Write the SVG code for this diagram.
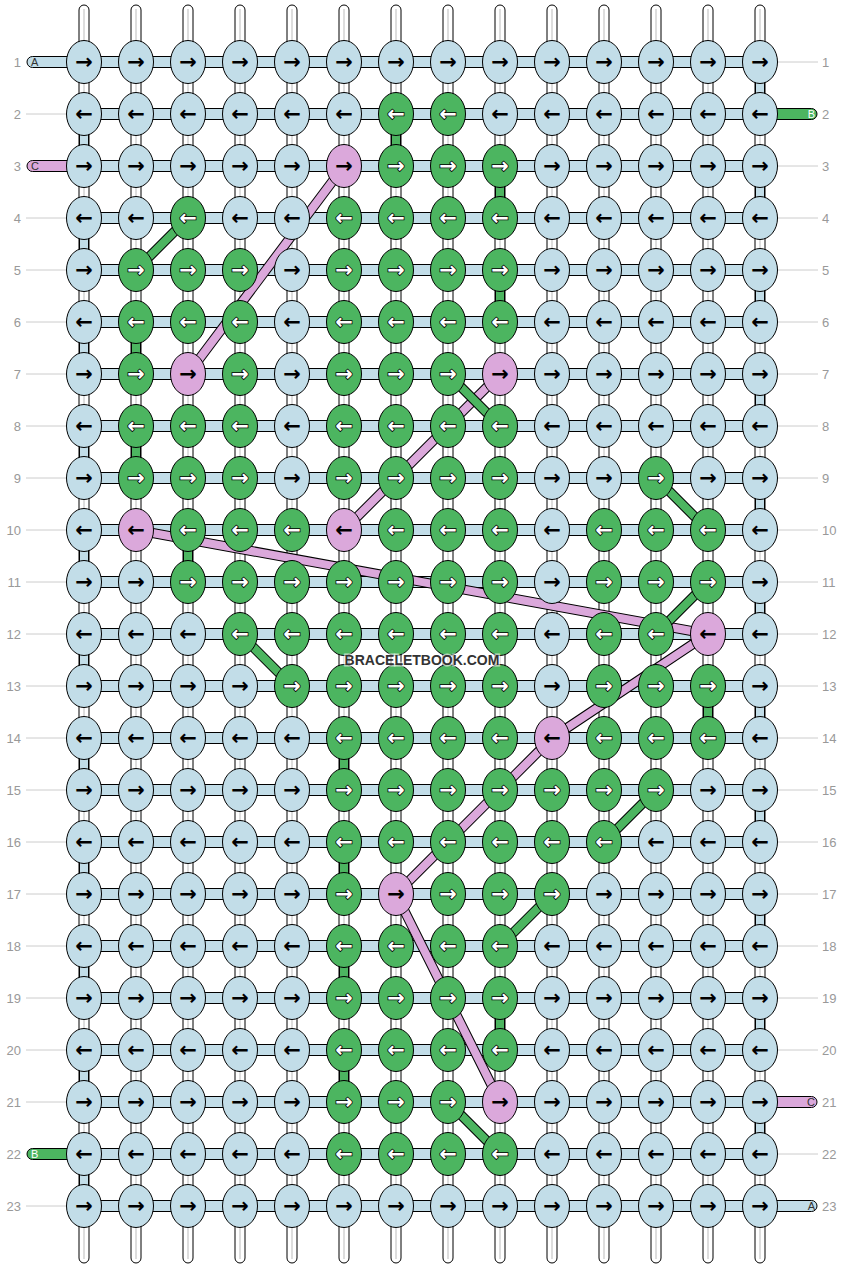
<svg xmlns="http://www.w3.org/2000/svg" width="844" height="1268" viewBox="0 0 844 1268">
<style>
.warp{fill:#fff;stroke:#000;stroke-width:1}
.wl{stroke:#bbb;stroke-width:1}
.band{fill:#c2dde8;stroke:#000;stroke-width:1}
.vb{fill:#c2dde8;stroke:#000;stroke-width:1}
.vg{fill:#4cb560;stroke:#000;stroke-width:1}
.tb{fill:#c2dde8;stroke:#000;stroke-width:1}
.tg{fill:#4cb560;stroke:#000;stroke-width:1}
.tp{fill:#dba8db;stroke:#000;stroke-width:1}
.gl{stroke:#ccc;stroke-width:1}
.num{font:13px "Liberation Sans",Arial,sans-serif;fill:#999}
.tl{font:11px "Liberation Sans",Arial,sans-serif;fill:#333}
.tlw{font:11px "Liberation Sans",Arial,sans-serif;fill:#fff}
.do{fill:none;stroke:#000;stroke-width:10}
.dp{fill:none;stroke:#dba8db;stroke-width:8}
.dg{fill:none;stroke:#4cb560;stroke-width:8}
ellipse{stroke:#000;stroke-width:1}
.b ellipse{fill:#c2dde8}
.g ellipse{fill:#4cb560}
.p ellipse{fill:#dba8db}
#knots text{font:bold 21px "DejaVu Sans",sans-serif;text-anchor:middle;fill:#000}
#knots .g text{fill:#fff;stroke:#000;stroke-width:1.6;paint-order:stroke}
.wm{font:bold 14px "Liberation Sans",Arial,sans-serif;fill:#333;stroke:rgba(255,255,255,0.6);stroke-width:3;paint-order:stroke;text-anchor:middle}
</style>
<g id="warps">
<rect class="warp" x="79" y="5" width="10" height="1258" rx="5"/><line class="wl" x1="84" y1="9" x2="84" y2="1259"/>
<rect class="warp" x="131" y="5" width="10" height="1258" rx="5"/><line class="wl" x1="136" y1="9" x2="136" y2="1259"/>
<rect class="warp" x="183" y="5" width="10" height="1258" rx="5"/><line class="wl" x1="188" y1="9" x2="188" y2="1259"/>
<rect class="warp" x="235" y="5" width="10" height="1258" rx="5"/><line class="wl" x1="240" y1="9" x2="240" y2="1259"/>
<rect class="warp" x="287" y="5" width="10" height="1258" rx="5"/><line class="wl" x1="292" y1="9" x2="292" y2="1259"/>
<rect class="warp" x="339" y="5" width="10" height="1258" rx="5"/><line class="wl" x1="344" y1="9" x2="344" y2="1259"/>
<rect class="warp" x="391" y="5" width="10" height="1258" rx="5"/><line class="wl" x1="396" y1="9" x2="396" y2="1259"/>
<rect class="warp" x="443" y="5" width="10" height="1258" rx="5"/><line class="wl" x1="448" y1="9" x2="448" y2="1259"/>
<rect class="warp" x="495" y="5" width="10" height="1258" rx="5"/><line class="wl" x1="500" y1="9" x2="500" y2="1259"/>
<rect class="warp" x="547" y="5" width="10" height="1258" rx="5"/><line class="wl" x1="552" y1="9" x2="552" y2="1259"/>
<rect class="warp" x="599" y="5" width="10" height="1258" rx="5"/><line class="wl" x1="604" y1="9" x2="604" y2="1259"/>
<rect class="warp" x="651" y="5" width="10" height="1258" rx="5"/><line class="wl" x1="656" y1="9" x2="656" y2="1259"/>
<rect class="warp" x="703" y="5" width="10" height="1258" rx="5"/><line class="wl" x1="708" y1="9" x2="708" y2="1259"/>
<rect class="warp" x="755" y="5" width="10" height="1258" rx="5"/><line class="wl" x1="760" y1="9" x2="760" y2="1259"/>
</g>
<g id="connectors">
<g id="vertical-segments">
<rect class="vb" x="755.5" y="62" width="9" height="52"/>
<rect class="vb" x="755.5" y="166" width="9" height="52"/>
<rect class="vb" x="755.5" y="270" width="9" height="52"/>
<rect class="vb" x="755.5" y="374" width="9" height="52"/>
<rect class="vb" x="755.5" y="478" width="9" height="52"/>
<rect class="vb" x="755.5" y="582" width="9" height="52"/>
<rect class="vb" x="755.5" y="686" width="9" height="52"/>
<rect class="vb" x="755.5" y="790" width="9" height="52"/>
<rect class="vb" x="755.5" y="894" width="9" height="52"/>
<rect class="vb" x="755.5" y="998" width="9" height="52"/>
<rect class="vb" x="755.5" y="1102" width="9" height="52"/>
<rect class="vb" x="79.5" y="114" width="9" height="52"/>
<rect class="vb" x="79.5" y="218" width="9" height="52"/>
<rect class="vb" x="79.5" y="322" width="9" height="52"/>
<rect class="vb" x="79.5" y="426" width="9" height="52"/>
<rect class="vb" x="79.5" y="530" width="9" height="52"/>
<rect class="vb" x="79.5" y="634" width="9" height="52"/>
<rect class="vb" x="79.5" y="738" width="9" height="52"/>
<rect class="vb" x="79.5" y="842" width="9" height="52"/>
<rect class="vb" x="79.5" y="946" width="9" height="52"/>
<rect class="vb" x="79.5" y="1050" width="9" height="52"/>
<rect class="vb" x="79.5" y="1154" width="9" height="52"/>
<rect class="vg" x="391.5" y="114" width="9" height="52"/>
<rect class="vg" x="495.5" y="166" width="9" height="52"/>
<rect class="vg" x="495.5" y="270" width="9" height="52"/>
<rect class="vg" x="131.5" y="322" width="9" height="52"/>
<rect class="vg" x="131.5" y="426" width="9" height="52"/>
<rect class="vg" x="183.5" y="530" width="9" height="52"/>
<rect class="vg" x="703.5" y="686" width="9" height="52"/>
<rect class="vg" x="339.5" y="738" width="9" height="52"/>
<rect class="vg" x="339.5" y="842" width="9" height="52"/>
<rect class="vg" x="339.5" y="946" width="9" height="52"/>
<rect class="vg" x="495.5" y="998" width="9" height="52"/>
<rect class="vg" x="339.5" y="1050" width="9" height="52"/>
</g>
<g id="rows">
<rect class="band" x="84" y="56.5" width="676" height="11"/>
<rect class="band" x="84" y="108.5" width="676" height="11"/>
<rect class="band" x="84" y="160.5" width="676" height="11"/>
<rect class="band" x="84" y="212.5" width="676" height="11"/>
<rect class="band" x="84" y="264.5" width="676" height="11"/>
<rect class="band" x="84" y="316.5" width="676" height="11"/>
<rect class="band" x="84" y="368.5" width="676" height="11"/>
<rect class="band" x="84" y="420.5" width="676" height="11"/>
<rect class="band" x="84" y="472.5" width="676" height="11"/>
<rect class="band" x="84" y="524.5" width="676" height="11"/>
<rect class="band" x="84" y="576.5" width="676" height="11"/>
<rect class="band" x="84" y="628.5" width="676" height="11"/>
<rect class="band" x="84" y="680.5" width="676" height="11"/>
<rect class="band" x="84" y="732.5" width="676" height="11"/>
<rect class="band" x="84" y="784.5" width="676" height="11"/>
<rect class="band" x="84" y="836.5" width="676" height="11"/>
<rect class="band" x="84" y="888.5" width="676" height="11"/>
<rect class="band" x="84" y="940.5" width="676" height="11"/>
<rect class="band" x="84" y="992.5" width="676" height="11"/>
<rect class="band" x="84" y="1044.5" width="676" height="11"/>
<rect class="band" x="84" y="1096.5" width="676" height="11"/>
<rect class="band" x="84" y="1148.5" width="676" height="11"/>
<rect class="band" x="84" y="1200.5" width="676" height="11"/>
</g>
<g id="tails">
<path class="tb" d="M72 56.5H32.5A5.5 5.5 0 0 0 32.5 67.5H72Z"/>
<path class="tp" d="M72 160.5H32.5A5.5 5.5 0 0 0 32.5 171.5H72Z"/>
<path class="tg" d="M72 1148.5H32.5A5.5 5.5 0 0 0 32.5 1159.5H72Z"/>
<path class="tg" d="M772 108.5H811.5A5.5 5.5 0 0 1 811.5 119.5H772Z"/>
<path class="tp" d="M772 1096.5H811.5A5.5 5.5 0 0 1 811.5 1107.5H772Z"/>
<path class="tb" d="M772 1200.5H811.5A5.5 5.5 0 0 1 811.5 1211.5H772Z"/>
<line class="gl" x1="26" y1="114" x2="66" y2="114"/>
<line class="gl" x1="26" y1="218" x2="66" y2="218"/>
<line class="gl" x1="26" y1="270" x2="66" y2="270"/>
<line class="gl" x1="26" y1="322" x2="66" y2="322"/>
<line class="gl" x1="26" y1="374" x2="66" y2="374"/>
<line class="gl" x1="26" y1="426" x2="66" y2="426"/>
<line class="gl" x1="26" y1="478" x2="66" y2="478"/>
<line class="gl" x1="26" y1="530" x2="66" y2="530"/>
<line class="gl" x1="26" y1="582" x2="66" y2="582"/>
<line class="gl" x1="26" y1="634" x2="66" y2="634"/>
<line class="gl" x1="26" y1="686" x2="66" y2="686"/>
<line class="gl" x1="26" y1="738" x2="66" y2="738"/>
<line class="gl" x1="26" y1="790" x2="66" y2="790"/>
<line class="gl" x1="26" y1="842" x2="66" y2="842"/>
<line class="gl" x1="26" y1="894" x2="66" y2="894"/>
<line class="gl" x1="26" y1="946" x2="66" y2="946"/>
<line class="gl" x1="26" y1="998" x2="66" y2="998"/>
<line class="gl" x1="26" y1="1050" x2="66" y2="1050"/>
<line class="gl" x1="26" y1="1102" x2="66" y2="1102"/>
<line class="gl" x1="26" y1="1206" x2="66" y2="1206"/>
<line class="gl" x1="778" y1="62" x2="818" y2="62"/>
<line class="gl" x1="778" y1="166" x2="818" y2="166"/>
<line class="gl" x1="778" y1="218" x2="818" y2="218"/>
<line class="gl" x1="778" y1="270" x2="818" y2="270"/>
<line class="gl" x1="778" y1="322" x2="818" y2="322"/>
<line class="gl" x1="778" y1="374" x2="818" y2="374"/>
<line class="gl" x1="778" y1="426" x2="818" y2="426"/>
<line class="gl" x1="778" y1="478" x2="818" y2="478"/>
<line class="gl" x1="778" y1="530" x2="818" y2="530"/>
<line class="gl" x1="778" y1="582" x2="818" y2="582"/>
<line class="gl" x1="778" y1="634" x2="818" y2="634"/>
<line class="gl" x1="778" y1="686" x2="818" y2="686"/>
<line class="gl" x1="778" y1="738" x2="818" y2="738"/>
<line class="gl" x1="778" y1="790" x2="818" y2="790"/>
<line class="gl" x1="778" y1="842" x2="818" y2="842"/>
<line class="gl" x1="778" y1="894" x2="818" y2="894"/>
<line class="gl" x1="778" y1="946" x2="818" y2="946"/>
<line class="gl" x1="778" y1="998" x2="818" y2="998"/>
<line class="gl" x1="778" y1="1050" x2="818" y2="1050"/>
<line class="gl" x1="778" y1="1154" x2="818" y2="1154"/>
<text class="tl" x="31" y="66">A</text>
<text class="tl" x="31" y="170">C</text>
<text class="tlw" x="31" y="1158">B</text>
<text class="tlw" x="815" y="118" text-anchor="end">B</text>
<text class="tl" x="815" y="1106" text-anchor="end">C</text>
<text class="tl" x="815" y="1210" text-anchor="end">A</text>
</g>
<g id="diagonals">
<path class="do" d="M344 166L188 374"/><path class="dp" d="M344 166L188 374"/>
<path class="do" d="M500 374L344 530"/><path class="dp" d="M500 374L344 530"/>
<path class="do" d="M136 530L708 634L552 738L396 894L500 1102"/><path class="dp" d="M136 530L708 634L552 738L396 894L500 1102"/>
<path class="do" d="M188 218L136 270"/><path class="dg" d="M188 218L136 270"/>
<path class="do" d="M448 374L500 426"/><path class="dg" d="M448 374L500 426"/>
<path class="do" d="M656 478L708 530"/><path class="dg" d="M656 478L708 530"/>
<path class="do" d="M708 582L656 634"/><path class="dg" d="M708 582L656 634"/>
<path class="do" d="M240 634L292 686"/><path class="dg" d="M240 634L292 686"/>
<path class="do" d="M656 790L604 842"/><path class="dg" d="M656 790L604 842"/>
<path class="do" d="M552 894L500 946"/><path class="dg" d="M552 894L500 946"/>
<path class="do" d="M448 1102L500 1154"/><path class="dg" d="M448 1102L500 1154"/>
</g>
</g>
<g id="row-numbers">
<text class="num" x="21" y="66.5" text-anchor="end">1</text><text class="num" x="822" y="66.5">1</text>
<text class="num" x="21" y="118.5" text-anchor="end">2</text><text class="num" x="822" y="118.5">2</text>
<text class="num" x="21" y="170.5" text-anchor="end">3</text><text class="num" x="822" y="170.5">3</text>
<text class="num" x="21" y="222.5" text-anchor="end">4</text><text class="num" x="822" y="222.5">4</text>
<text class="num" x="21" y="274.5" text-anchor="end">5</text><text class="num" x="822" y="274.5">5</text>
<text class="num" x="21" y="326.5" text-anchor="end">6</text><text class="num" x="822" y="326.5">6</text>
<text class="num" x="21" y="378.5" text-anchor="end">7</text><text class="num" x="822" y="378.5">7</text>
<text class="num" x="21" y="430.5" text-anchor="end">8</text><text class="num" x="822" y="430.5">8</text>
<text class="num" x="21" y="482.5" text-anchor="end">9</text><text class="num" x="822" y="482.5">9</text>
<text class="num" x="21" y="534.5" text-anchor="end">10</text><text class="num" x="822" y="534.5">10</text>
<text class="num" x="21" y="586.5" text-anchor="end">11</text><text class="num" x="822" y="586.5">11</text>
<text class="num" x="21" y="638.5" text-anchor="end">12</text><text class="num" x="822" y="638.5">12</text>
<text class="num" x="21" y="690.5" text-anchor="end">13</text><text class="num" x="822" y="690.5">13</text>
<text class="num" x="21" y="742.5" text-anchor="end">14</text><text class="num" x="822" y="742.5">14</text>
<text class="num" x="21" y="794.5" text-anchor="end">15</text><text class="num" x="822" y="794.5">15</text>
<text class="num" x="21" y="846.5" text-anchor="end">16</text><text class="num" x="822" y="846.5">16</text>
<text class="num" x="21" y="898.5" text-anchor="end">17</text><text class="num" x="822" y="898.5">17</text>
<text class="num" x="21" y="950.5" text-anchor="end">18</text><text class="num" x="822" y="950.5">18</text>
<text class="num" x="21" y="1002.5" text-anchor="end">19</text><text class="num" x="822" y="1002.5">19</text>
<text class="num" x="21" y="1054.5" text-anchor="end">20</text><text class="num" x="822" y="1054.5">20</text>
<text class="num" x="21" y="1106.5" text-anchor="end">21</text><text class="num" x="822" y="1106.5">21</text>
<text class="num" x="21" y="1158.5" text-anchor="end">22</text><text class="num" x="822" y="1158.5">22</text>
<text class="num" x="21" y="1210.5" text-anchor="end">23</text><text class="num" x="822" y="1210.5">23</text>
</g>
<g id="knots">
<g id="k1-1" class="b" transform="translate(84 62)"><ellipse rx="17.5" ry="21.5"/><text y="7">→</text></g>
<g id="k1-2" class="b" transform="translate(136 62)"><ellipse rx="17.5" ry="21.5"/><text y="7">→</text></g>
<g id="k1-3" class="b" transform="translate(188 62)"><ellipse rx="17.5" ry="21.5"/><text y="7">→</text></g>
<g id="k1-4" class="b" transform="translate(240 62)"><ellipse rx="17.5" ry="21.5"/><text y="7">→</text></g>
<g id="k1-5" class="b" transform="translate(292 62)"><ellipse rx="17.5" ry="21.5"/><text y="7">→</text></g>
<g id="k1-6" class="b" transform="translate(344 62)"><ellipse rx="17.5" ry="21.5"/><text y="7">→</text></g>
<g id="k1-7" class="b" transform="translate(396 62)"><ellipse rx="17.5" ry="21.5"/><text y="7">→</text></g>
<g id="k1-8" class="b" transform="translate(448 62)"><ellipse rx="17.5" ry="21.5"/><text y="7">→</text></g>
<g id="k1-9" class="b" transform="translate(500 62)"><ellipse rx="17.5" ry="21.5"/><text y="7">→</text></g>
<g id="k1-10" class="b" transform="translate(552 62)"><ellipse rx="17.5" ry="21.5"/><text y="7">→</text></g>
<g id="k1-11" class="b" transform="translate(604 62)"><ellipse rx="17.5" ry="21.5"/><text y="7">→</text></g>
<g id="k1-12" class="b" transform="translate(656 62)"><ellipse rx="17.5" ry="21.5"/><text y="7">→</text></g>
<g id="k1-13" class="b" transform="translate(708 62)"><ellipse rx="17.5" ry="21.5"/><text y="7">→</text></g>
<g id="k1-14" class="b" transform="translate(760 62)"><ellipse rx="17.5" ry="21.5"/><text y="7">→</text></g>
<g id="k2-1" class="b" transform="translate(84 114)"><ellipse rx="17.5" ry="21.5"/><text y="7">←</text></g>
<g id="k2-2" class="b" transform="translate(136 114)"><ellipse rx="17.5" ry="21.5"/><text y="7">←</text></g>
<g id="k2-3" class="b" transform="translate(188 114)"><ellipse rx="17.5" ry="21.5"/><text y="7">←</text></g>
<g id="k2-4" class="b" transform="translate(240 114)"><ellipse rx="17.5" ry="21.5"/><text y="7">←</text></g>
<g id="k2-5" class="b" transform="translate(292 114)"><ellipse rx="17.5" ry="21.5"/><text y="7">←</text></g>
<g id="k2-6" class="b" transform="translate(344 114)"><ellipse rx="17.5" ry="21.5"/><text y="7">←</text></g>
<g id="k2-7" class="g" transform="translate(396 114)"><ellipse rx="17.5" ry="21.5"/><text y="7">←</text></g>
<g id="k2-8" class="g" transform="translate(448 114)"><ellipse rx="17.5" ry="21.5"/><text y="7">←</text></g>
<g id="k2-9" class="b" transform="translate(500 114)"><ellipse rx="17.5" ry="21.5"/><text y="7">←</text></g>
<g id="k2-10" class="b" transform="translate(552 114)"><ellipse rx="17.5" ry="21.5"/><text y="7">←</text></g>
<g id="k2-11" class="b" transform="translate(604 114)"><ellipse rx="17.5" ry="21.5"/><text y="7">←</text></g>
<g id="k2-12" class="b" transform="translate(656 114)"><ellipse rx="17.5" ry="21.5"/><text y="7">←</text></g>
<g id="k2-13" class="b" transform="translate(708 114)"><ellipse rx="17.5" ry="21.5"/><text y="7">←</text></g>
<g id="k2-14" class="b" transform="translate(760 114)"><ellipse rx="17.5" ry="21.5"/><text y="7">←</text></g>
<g id="k3-1" class="b" transform="translate(84 166)"><ellipse rx="17.5" ry="21.5"/><text y="7">→</text></g>
<g id="k3-2" class="b" transform="translate(136 166)"><ellipse rx="17.5" ry="21.5"/><text y="7">→</text></g>
<g id="k3-3" class="b" transform="translate(188 166)"><ellipse rx="17.5" ry="21.5"/><text y="7">→</text></g>
<g id="k3-4" class="b" transform="translate(240 166)"><ellipse rx="17.5" ry="21.5"/><text y="7">→</text></g>
<g id="k3-5" class="b" transform="translate(292 166)"><ellipse rx="17.5" ry="21.5"/><text y="7">→</text></g>
<g id="k3-6" class="p" transform="translate(344 166)"><ellipse rx="17.5" ry="21.5"/><text y="7">→</text></g>
<g id="k3-7" class="g" transform="translate(396 166)"><ellipse rx="17.5" ry="21.5"/><text y="7">→</text></g>
<g id="k3-8" class="g" transform="translate(448 166)"><ellipse rx="17.5" ry="21.5"/><text y="7">→</text></g>
<g id="k3-9" class="g" transform="translate(500 166)"><ellipse rx="17.5" ry="21.5"/><text y="7">→</text></g>
<g id="k3-10" class="b" transform="translate(552 166)"><ellipse rx="17.5" ry="21.5"/><text y="7">→</text></g>
<g id="k3-11" class="b" transform="translate(604 166)"><ellipse rx="17.5" ry="21.5"/><text y="7">→</text></g>
<g id="k3-12" class="b" transform="translate(656 166)"><ellipse rx="17.5" ry="21.5"/><text y="7">→</text></g>
<g id="k3-13" class="b" transform="translate(708 166)"><ellipse rx="17.5" ry="21.5"/><text y="7">→</text></g>
<g id="k3-14" class="b" transform="translate(760 166)"><ellipse rx="17.5" ry="21.5"/><text y="7">→</text></g>
<g id="k4-1" class="b" transform="translate(84 218)"><ellipse rx="17.5" ry="21.5"/><text y="7">←</text></g>
<g id="k4-2" class="b" transform="translate(136 218)"><ellipse rx="17.5" ry="21.5"/><text y="7">←</text></g>
<g id="k4-3" class="g" transform="translate(188 218)"><ellipse rx="17.5" ry="21.5"/><text y="7">←</text></g>
<g id="k4-4" class="b" transform="translate(240 218)"><ellipse rx="17.5" ry="21.5"/><text y="7">←</text></g>
<g id="k4-5" class="b" transform="translate(292 218)"><ellipse rx="17.5" ry="21.5"/><text y="7">←</text></g>
<g id="k4-6" class="g" transform="translate(344 218)"><ellipse rx="17.5" ry="21.5"/><text y="7">←</text></g>
<g id="k4-7" class="g" transform="translate(396 218)"><ellipse rx="17.5" ry="21.5"/><text y="7">←</text></g>
<g id="k4-8" class="g" transform="translate(448 218)"><ellipse rx="17.5" ry="21.5"/><text y="7">←</text></g>
<g id="k4-9" class="g" transform="translate(500 218)"><ellipse rx="17.5" ry="21.5"/><text y="7">←</text></g>
<g id="k4-10" class="b" transform="translate(552 218)"><ellipse rx="17.5" ry="21.5"/><text y="7">←</text></g>
<g id="k4-11" class="b" transform="translate(604 218)"><ellipse rx="17.5" ry="21.5"/><text y="7">←</text></g>
<g id="k4-12" class="b" transform="translate(656 218)"><ellipse rx="17.5" ry="21.5"/><text y="7">←</text></g>
<g id="k4-13" class="b" transform="translate(708 218)"><ellipse rx="17.5" ry="21.5"/><text y="7">←</text></g>
<g id="k4-14" class="b" transform="translate(760 218)"><ellipse rx="17.5" ry="21.5"/><text y="7">←</text></g>
<g id="k5-1" class="b" transform="translate(84 270)"><ellipse rx="17.5" ry="21.5"/><text y="7">→</text></g>
<g id="k5-2" class="g" transform="translate(136 270)"><ellipse rx="17.5" ry="21.5"/><text y="7">→</text></g>
<g id="k5-3" class="g" transform="translate(188 270)"><ellipse rx="17.5" ry="21.5"/><text y="7">→</text></g>
<g id="k5-4" class="g" transform="translate(240 270)"><ellipse rx="17.5" ry="21.5"/><text y="7">→</text></g>
<g id="k5-5" class="b" transform="translate(292 270)"><ellipse rx="17.5" ry="21.5"/><text y="7">→</text></g>
<g id="k5-6" class="g" transform="translate(344 270)"><ellipse rx="17.5" ry="21.5"/><text y="7">→</text></g>
<g id="k5-7" class="g" transform="translate(396 270)"><ellipse rx="17.5" ry="21.5"/><text y="7">→</text></g>
<g id="k5-8" class="g" transform="translate(448 270)"><ellipse rx="17.5" ry="21.5"/><text y="7">→</text></g>
<g id="k5-9" class="g" transform="translate(500 270)"><ellipse rx="17.5" ry="21.5"/><text y="7">→</text></g>
<g id="k5-10" class="b" transform="translate(552 270)"><ellipse rx="17.5" ry="21.5"/><text y="7">→</text></g>
<g id="k5-11" class="b" transform="translate(604 270)"><ellipse rx="17.5" ry="21.5"/><text y="7">→</text></g>
<g id="k5-12" class="b" transform="translate(656 270)"><ellipse rx="17.5" ry="21.5"/><text y="7">→</text></g>
<g id="k5-13" class="b" transform="translate(708 270)"><ellipse rx="17.5" ry="21.5"/><text y="7">→</text></g>
<g id="k5-14" class="b" transform="translate(760 270)"><ellipse rx="17.5" ry="21.5"/><text y="7">→</text></g>
<g id="k6-1" class="b" transform="translate(84 322)"><ellipse rx="17.5" ry="21.5"/><text y="7">←</text></g>
<g id="k6-2" class="g" transform="translate(136 322)"><ellipse rx="17.5" ry="21.5"/><text y="7">←</text></g>
<g id="k6-3" class="g" transform="translate(188 322)"><ellipse rx="17.5" ry="21.5"/><text y="7">←</text></g>
<g id="k6-4" class="g" transform="translate(240 322)"><ellipse rx="17.5" ry="21.5"/><text y="7">←</text></g>
<g id="k6-5" class="b" transform="translate(292 322)"><ellipse rx="17.5" ry="21.5"/><text y="7">←</text></g>
<g id="k6-6" class="g" transform="translate(344 322)"><ellipse rx="17.5" ry="21.5"/><text y="7">←</text></g>
<g id="k6-7" class="g" transform="translate(396 322)"><ellipse rx="17.5" ry="21.5"/><text y="7">←</text></g>
<g id="k6-8" class="g" transform="translate(448 322)"><ellipse rx="17.5" ry="21.5"/><text y="7">←</text></g>
<g id="k6-9" class="g" transform="translate(500 322)"><ellipse rx="17.5" ry="21.5"/><text y="7">←</text></g>
<g id="k6-10" class="b" transform="translate(552 322)"><ellipse rx="17.5" ry="21.5"/><text y="7">←</text></g>
<g id="k6-11" class="b" transform="translate(604 322)"><ellipse rx="17.5" ry="21.5"/><text y="7">←</text></g>
<g id="k6-12" class="b" transform="translate(656 322)"><ellipse rx="17.5" ry="21.5"/><text y="7">←</text></g>
<g id="k6-13" class="b" transform="translate(708 322)"><ellipse rx="17.5" ry="21.5"/><text y="7">←</text></g>
<g id="k6-14" class="b" transform="translate(760 322)"><ellipse rx="17.5" ry="21.5"/><text y="7">←</text></g>
<g id="k7-1" class="b" transform="translate(84 374)"><ellipse rx="17.5" ry="21.5"/><text y="7">→</text></g>
<g id="k7-2" class="g" transform="translate(136 374)"><ellipse rx="17.5" ry="21.5"/><text y="7">→</text></g>
<g id="k7-3" class="p" transform="translate(188 374)"><ellipse rx="17.5" ry="21.5"/><text y="7">→</text></g>
<g id="k7-4" class="g" transform="translate(240 374)"><ellipse rx="17.5" ry="21.5"/><text y="7">→</text></g>
<g id="k7-5" class="b" transform="translate(292 374)"><ellipse rx="17.5" ry="21.5"/><text y="7">→</text></g>
<g id="k7-6" class="g" transform="translate(344 374)"><ellipse rx="17.5" ry="21.5"/><text y="7">→</text></g>
<g id="k7-7" class="g" transform="translate(396 374)"><ellipse rx="17.5" ry="21.5"/><text y="7">→</text></g>
<g id="k7-8" class="g" transform="translate(448 374)"><ellipse rx="17.5" ry="21.5"/><text y="7">→</text></g>
<g id="k7-9" class="p" transform="translate(500 374)"><ellipse rx="17.5" ry="21.5"/><text y="7">→</text></g>
<g id="k7-10" class="b" transform="translate(552 374)"><ellipse rx="17.5" ry="21.5"/><text y="7">→</text></g>
<g id="k7-11" class="b" transform="translate(604 374)"><ellipse rx="17.5" ry="21.5"/><text y="7">→</text></g>
<g id="k7-12" class="b" transform="translate(656 374)"><ellipse rx="17.5" ry="21.5"/><text y="7">→</text></g>
<g id="k7-13" class="b" transform="translate(708 374)"><ellipse rx="17.5" ry="21.5"/><text y="7">→</text></g>
<g id="k7-14" class="b" transform="translate(760 374)"><ellipse rx="17.5" ry="21.5"/><text y="7">→</text></g>
<g id="k8-1" class="b" transform="translate(84 426)"><ellipse rx="17.5" ry="21.5"/><text y="7">←</text></g>
<g id="k8-2" class="g" transform="translate(136 426)"><ellipse rx="17.5" ry="21.5"/><text y="7">←</text></g>
<g id="k8-3" class="g" transform="translate(188 426)"><ellipse rx="17.5" ry="21.5"/><text y="7">←</text></g>
<g id="k8-4" class="g" transform="translate(240 426)"><ellipse rx="17.5" ry="21.5"/><text y="7">←</text></g>
<g id="k8-5" class="b" transform="translate(292 426)"><ellipse rx="17.5" ry="21.5"/><text y="7">←</text></g>
<g id="k8-6" class="g" transform="translate(344 426)"><ellipse rx="17.5" ry="21.5"/><text y="7">←</text></g>
<g id="k8-7" class="g" transform="translate(396 426)"><ellipse rx="17.5" ry="21.5"/><text y="7">←</text></g>
<g id="k8-8" class="g" transform="translate(448 426)"><ellipse rx="17.5" ry="21.5"/><text y="7">←</text></g>
<g id="k8-9" class="g" transform="translate(500 426)"><ellipse rx="17.5" ry="21.5"/><text y="7">←</text></g>
<g id="k8-10" class="b" transform="translate(552 426)"><ellipse rx="17.5" ry="21.5"/><text y="7">←</text></g>
<g id="k8-11" class="b" transform="translate(604 426)"><ellipse rx="17.5" ry="21.5"/><text y="7">←</text></g>
<g id="k8-12" class="b" transform="translate(656 426)"><ellipse rx="17.5" ry="21.5"/><text y="7">←</text></g>
<g id="k8-13" class="b" transform="translate(708 426)"><ellipse rx="17.5" ry="21.5"/><text y="7">←</text></g>
<g id="k8-14" class="b" transform="translate(760 426)"><ellipse rx="17.5" ry="21.5"/><text y="7">←</text></g>
<g id="k9-1" class="b" transform="translate(84 478)"><ellipse rx="17.5" ry="21.5"/><text y="7">→</text></g>
<g id="k9-2" class="g" transform="translate(136 478)"><ellipse rx="17.5" ry="21.5"/><text y="7">→</text></g>
<g id="k9-3" class="g" transform="translate(188 478)"><ellipse rx="17.5" ry="21.5"/><text y="7">→</text></g>
<g id="k9-4" class="g" transform="translate(240 478)"><ellipse rx="17.5" ry="21.5"/><text y="7">→</text></g>
<g id="k9-5" class="b" transform="translate(292 478)"><ellipse rx="17.5" ry="21.5"/><text y="7">→</text></g>
<g id="k9-6" class="g" transform="translate(344 478)"><ellipse rx="17.5" ry="21.5"/><text y="7">→</text></g>
<g id="k9-7" class="g" transform="translate(396 478)"><ellipse rx="17.5" ry="21.5"/><text y="7">→</text></g>
<g id="k9-8" class="g" transform="translate(448 478)"><ellipse rx="17.5" ry="21.5"/><text y="7">→</text></g>
<g id="k9-9" class="g" transform="translate(500 478)"><ellipse rx="17.5" ry="21.5"/><text y="7">→</text></g>
<g id="k9-10" class="b" transform="translate(552 478)"><ellipse rx="17.5" ry="21.5"/><text y="7">→</text></g>
<g id="k9-11" class="b" transform="translate(604 478)"><ellipse rx="17.5" ry="21.5"/><text y="7">→</text></g>
<g id="k9-12" class="g" transform="translate(656 478)"><ellipse rx="17.5" ry="21.5"/><text y="7">→</text></g>
<g id="k9-13" class="b" transform="translate(708 478)"><ellipse rx="17.5" ry="21.5"/><text y="7">→</text></g>
<g id="k9-14" class="b" transform="translate(760 478)"><ellipse rx="17.5" ry="21.5"/><text y="7">→</text></g>
<g id="k10-1" class="b" transform="translate(84 530)"><ellipse rx="17.5" ry="21.5"/><text y="7">←</text></g>
<g id="k10-2" class="p" transform="translate(136 530)"><ellipse rx="17.5" ry="21.5"/><text y="7">←</text></g>
<g id="k10-3" class="g" transform="translate(188 530)"><ellipse rx="17.5" ry="21.5"/><text y="7">←</text></g>
<g id="k10-4" class="g" transform="translate(240 530)"><ellipse rx="17.5" ry="21.5"/><text y="7">←</text></g>
<g id="k10-5" class="g" transform="translate(292 530)"><ellipse rx="17.5" ry="21.5"/><text y="7">←</text></g>
<g id="k10-6" class="p" transform="translate(344 530)"><ellipse rx="17.5" ry="21.5"/><text y="7">←</text></g>
<g id="k10-7" class="g" transform="translate(396 530)"><ellipse rx="17.5" ry="21.5"/><text y="7">←</text></g>
<g id="k10-8" class="g" transform="translate(448 530)"><ellipse rx="17.5" ry="21.5"/><text y="7">←</text></g>
<g id="k10-9" class="g" transform="translate(500 530)"><ellipse rx="17.5" ry="21.5"/><text y="7">←</text></g>
<g id="k10-10" class="b" transform="translate(552 530)"><ellipse rx="17.5" ry="21.5"/><text y="7">←</text></g>
<g id="k10-11" class="g" transform="translate(604 530)"><ellipse rx="17.5" ry="21.5"/><text y="7">←</text></g>
<g id="k10-12" class="g" transform="translate(656 530)"><ellipse rx="17.5" ry="21.5"/><text y="7">←</text></g>
<g id="k10-13" class="g" transform="translate(708 530)"><ellipse rx="17.5" ry="21.5"/><text y="7">←</text></g>
<g id="k10-14" class="b" transform="translate(760 530)"><ellipse rx="17.5" ry="21.5"/><text y="7">←</text></g>
<g id="k11-1" class="b" transform="translate(84 582)"><ellipse rx="17.5" ry="21.5"/><text y="7">→</text></g>
<g id="k11-2" class="b" transform="translate(136 582)"><ellipse rx="17.5" ry="21.5"/><text y="7">→</text></g>
<g id="k11-3" class="g" transform="translate(188 582)"><ellipse rx="17.5" ry="21.5"/><text y="7">→</text></g>
<g id="k11-4" class="g" transform="translate(240 582)"><ellipse rx="17.5" ry="21.5"/><text y="7">→</text></g>
<g id="k11-5" class="g" transform="translate(292 582)"><ellipse rx="17.5" ry="21.5"/><text y="7">→</text></g>
<g id="k11-6" class="g" transform="translate(344 582)"><ellipse rx="17.5" ry="21.5"/><text y="7">→</text></g>
<g id="k11-7" class="g" transform="translate(396 582)"><ellipse rx="17.5" ry="21.5"/><text y="7">→</text></g>
<g id="k11-8" class="g" transform="translate(448 582)"><ellipse rx="17.5" ry="21.5"/><text y="7">→</text></g>
<g id="k11-9" class="g" transform="translate(500 582)"><ellipse rx="17.5" ry="21.5"/><text y="7">→</text></g>
<g id="k11-10" class="b" transform="translate(552 582)"><ellipse rx="17.5" ry="21.5"/><text y="7">→</text></g>
<g id="k11-11" class="g" transform="translate(604 582)"><ellipse rx="17.5" ry="21.5"/><text y="7">→</text></g>
<g id="k11-12" class="g" transform="translate(656 582)"><ellipse rx="17.5" ry="21.5"/><text y="7">→</text></g>
<g id="k11-13" class="g" transform="translate(708 582)"><ellipse rx="17.5" ry="21.5"/><text y="7">→</text></g>
<g id="k11-14" class="b" transform="translate(760 582)"><ellipse rx="17.5" ry="21.5"/><text y="7">→</text></g>
<g id="k12-1" class="b" transform="translate(84 634)"><ellipse rx="17.5" ry="21.5"/><text y="7">←</text></g>
<g id="k12-2" class="b" transform="translate(136 634)"><ellipse rx="17.5" ry="21.5"/><text y="7">←</text></g>
<g id="k12-3" class="b" transform="translate(188 634)"><ellipse rx="17.5" ry="21.5"/><text y="7">←</text></g>
<g id="k12-4" class="g" transform="translate(240 634)"><ellipse rx="17.5" ry="21.5"/><text y="7">←</text></g>
<g id="k12-5" class="g" transform="translate(292 634)"><ellipse rx="17.5" ry="21.5"/><text y="7">←</text></g>
<g id="k12-6" class="g" transform="translate(344 634)"><ellipse rx="17.5" ry="21.5"/><text y="7">←</text></g>
<g id="k12-7" class="g" transform="translate(396 634)"><ellipse rx="17.5" ry="21.5"/><text y="7">←</text></g>
<g id="k12-8" class="g" transform="translate(448 634)"><ellipse rx="17.5" ry="21.5"/><text y="7">←</text></g>
<g id="k12-9" class="g" transform="translate(500 634)"><ellipse rx="17.5" ry="21.5"/><text y="7">←</text></g>
<g id="k12-10" class="b" transform="translate(552 634)"><ellipse rx="17.5" ry="21.5"/><text y="7">←</text></g>
<g id="k12-11" class="g" transform="translate(604 634)"><ellipse rx="17.5" ry="21.5"/><text y="7">←</text></g>
<g id="k12-12" class="g" transform="translate(656 634)"><ellipse rx="17.5" ry="21.5"/><text y="7">←</text></g>
<g id="k12-13" class="p" transform="translate(708 634)"><ellipse rx="17.5" ry="21.5"/><text y="7">←</text></g>
<g id="k12-14" class="b" transform="translate(760 634)"><ellipse rx="17.5" ry="21.5"/><text y="7">←</text></g>
<g id="k13-1" class="b" transform="translate(84 686)"><ellipse rx="17.5" ry="21.5"/><text y="7">→</text></g>
<g id="k13-2" class="b" transform="translate(136 686)"><ellipse rx="17.5" ry="21.5"/><text y="7">→</text></g>
<g id="k13-3" class="b" transform="translate(188 686)"><ellipse rx="17.5" ry="21.5"/><text y="7">→</text></g>
<g id="k13-4" class="b" transform="translate(240 686)"><ellipse rx="17.5" ry="21.5"/><text y="7">→</text></g>
<g id="k13-5" class="g" transform="translate(292 686)"><ellipse rx="17.5" ry="21.5"/><text y="7">→</text></g>
<g id="k13-6" class="g" transform="translate(344 686)"><ellipse rx="17.5" ry="21.5"/><text y="7">→</text></g>
<g id="k13-7" class="g" transform="translate(396 686)"><ellipse rx="17.5" ry="21.5"/><text y="7">→</text></g>
<g id="k13-8" class="g" transform="translate(448 686)"><ellipse rx="17.5" ry="21.5"/><text y="7">→</text></g>
<g id="k13-9" class="g" transform="translate(500 686)"><ellipse rx="17.5" ry="21.5"/><text y="7">→</text></g>
<g id="k13-10" class="b" transform="translate(552 686)"><ellipse rx="17.5" ry="21.5"/><text y="7">→</text></g>
<g id="k13-11" class="g" transform="translate(604 686)"><ellipse rx="17.5" ry="21.5"/><text y="7">→</text></g>
<g id="k13-12" class="g" transform="translate(656 686)"><ellipse rx="17.5" ry="21.5"/><text y="7">→</text></g>
<g id="k13-13" class="g" transform="translate(708 686)"><ellipse rx="17.5" ry="21.5"/><text y="7">→</text></g>
<g id="k13-14" class="b" transform="translate(760 686)"><ellipse rx="17.5" ry="21.5"/><text y="7">→</text></g>
<g id="k14-1" class="b" transform="translate(84 738)"><ellipse rx="17.5" ry="21.5"/><text y="7">←</text></g>
<g id="k14-2" class="b" transform="translate(136 738)"><ellipse rx="17.5" ry="21.5"/><text y="7">←</text></g>
<g id="k14-3" class="b" transform="translate(188 738)"><ellipse rx="17.5" ry="21.5"/><text y="7">←</text></g>
<g id="k14-4" class="b" transform="translate(240 738)"><ellipse rx="17.5" ry="21.5"/><text y="7">←</text></g>
<g id="k14-5" class="b" transform="translate(292 738)"><ellipse rx="17.5" ry="21.5"/><text y="7">←</text></g>
<g id="k14-6" class="g" transform="translate(344 738)"><ellipse rx="17.5" ry="21.5"/><text y="7">←</text></g>
<g id="k14-7" class="g" transform="translate(396 738)"><ellipse rx="17.5" ry="21.5"/><text y="7">←</text></g>
<g id="k14-8" class="g" transform="translate(448 738)"><ellipse rx="17.5" ry="21.5"/><text y="7">←</text></g>
<g id="k14-9" class="g" transform="translate(500 738)"><ellipse rx="17.5" ry="21.5"/><text y="7">←</text></g>
<g id="k14-10" class="p" transform="translate(552 738)"><ellipse rx="17.5" ry="21.5"/><text y="7">←</text></g>
<g id="k14-11" class="g" transform="translate(604 738)"><ellipse rx="17.5" ry="21.5"/><text y="7">←</text></g>
<g id="k14-12" class="g" transform="translate(656 738)"><ellipse rx="17.5" ry="21.5"/><text y="7">←</text></g>
<g id="k14-13" class="g" transform="translate(708 738)"><ellipse rx="17.5" ry="21.5"/><text y="7">←</text></g>
<g id="k14-14" class="b" transform="translate(760 738)"><ellipse rx="17.5" ry="21.5"/><text y="7">←</text></g>
<g id="k15-1" class="b" transform="translate(84 790)"><ellipse rx="17.5" ry="21.5"/><text y="7">→</text></g>
<g id="k15-2" class="b" transform="translate(136 790)"><ellipse rx="17.5" ry="21.5"/><text y="7">→</text></g>
<g id="k15-3" class="b" transform="translate(188 790)"><ellipse rx="17.5" ry="21.5"/><text y="7">→</text></g>
<g id="k15-4" class="b" transform="translate(240 790)"><ellipse rx="17.5" ry="21.5"/><text y="7">→</text></g>
<g id="k15-5" class="b" transform="translate(292 790)"><ellipse rx="17.5" ry="21.5"/><text y="7">→</text></g>
<g id="k15-6" class="g" transform="translate(344 790)"><ellipse rx="17.5" ry="21.5"/><text y="7">→</text></g>
<g id="k15-7" class="g" transform="translate(396 790)"><ellipse rx="17.5" ry="21.5"/><text y="7">→</text></g>
<g id="k15-8" class="g" transform="translate(448 790)"><ellipse rx="17.5" ry="21.5"/><text y="7">→</text></g>
<g id="k15-9" class="g" transform="translate(500 790)"><ellipse rx="17.5" ry="21.5"/><text y="7">→</text></g>
<g id="k15-10" class="g" transform="translate(552 790)"><ellipse rx="17.5" ry="21.5"/><text y="7">→</text></g>
<g id="k15-11" class="g" transform="translate(604 790)"><ellipse rx="17.5" ry="21.5"/><text y="7">→</text></g>
<g id="k15-12" class="g" transform="translate(656 790)"><ellipse rx="17.5" ry="21.5"/><text y="7">→</text></g>
<g id="k15-13" class="b" transform="translate(708 790)"><ellipse rx="17.5" ry="21.5"/><text y="7">→</text></g>
<g id="k15-14" class="b" transform="translate(760 790)"><ellipse rx="17.5" ry="21.5"/><text y="7">→</text></g>
<g id="k16-1" class="b" transform="translate(84 842)"><ellipse rx="17.5" ry="21.5"/><text y="7">←</text></g>
<g id="k16-2" class="b" transform="translate(136 842)"><ellipse rx="17.5" ry="21.5"/><text y="7">←</text></g>
<g id="k16-3" class="b" transform="translate(188 842)"><ellipse rx="17.5" ry="21.5"/><text y="7">←</text></g>
<g id="k16-4" class="b" transform="translate(240 842)"><ellipse rx="17.5" ry="21.5"/><text y="7">←</text></g>
<g id="k16-5" class="b" transform="translate(292 842)"><ellipse rx="17.5" ry="21.5"/><text y="7">←</text></g>
<g id="k16-6" class="g" transform="translate(344 842)"><ellipse rx="17.5" ry="21.5"/><text y="7">←</text></g>
<g id="k16-7" class="g" transform="translate(396 842)"><ellipse rx="17.5" ry="21.5"/><text y="7">←</text></g>
<g id="k16-8" class="g" transform="translate(448 842)"><ellipse rx="17.5" ry="21.5"/><text y="7">←</text></g>
<g id="k16-9" class="g" transform="translate(500 842)"><ellipse rx="17.5" ry="21.5"/><text y="7">←</text></g>
<g id="k16-10" class="g" transform="translate(552 842)"><ellipse rx="17.5" ry="21.5"/><text y="7">←</text></g>
<g id="k16-11" class="g" transform="translate(604 842)"><ellipse rx="17.5" ry="21.5"/><text y="7">←</text></g>
<g id="k16-12" class="b" transform="translate(656 842)"><ellipse rx="17.5" ry="21.5"/><text y="7">←</text></g>
<g id="k16-13" class="b" transform="translate(708 842)"><ellipse rx="17.5" ry="21.5"/><text y="7">←</text></g>
<g id="k16-14" class="b" transform="translate(760 842)"><ellipse rx="17.5" ry="21.5"/><text y="7">←</text></g>
<g id="k17-1" class="b" transform="translate(84 894)"><ellipse rx="17.5" ry="21.5"/><text y="7">→</text></g>
<g id="k17-2" class="b" transform="translate(136 894)"><ellipse rx="17.5" ry="21.5"/><text y="7">→</text></g>
<g id="k17-3" class="b" transform="translate(188 894)"><ellipse rx="17.5" ry="21.5"/><text y="7">→</text></g>
<g id="k17-4" class="b" transform="translate(240 894)"><ellipse rx="17.5" ry="21.5"/><text y="7">→</text></g>
<g id="k17-5" class="b" transform="translate(292 894)"><ellipse rx="17.5" ry="21.5"/><text y="7">→</text></g>
<g id="k17-6" class="g" transform="translate(344 894)"><ellipse rx="17.5" ry="21.5"/><text y="7">→</text></g>
<g id="k17-7" class="p" transform="translate(396 894)"><ellipse rx="17.5" ry="21.5"/><text y="7">→</text></g>
<g id="k17-8" class="g" transform="translate(448 894)"><ellipse rx="17.5" ry="21.5"/><text y="7">→</text></g>
<g id="k17-9" class="g" transform="translate(500 894)"><ellipse rx="17.5" ry="21.5"/><text y="7">→</text></g>
<g id="k17-10" class="g" transform="translate(552 894)"><ellipse rx="17.5" ry="21.5"/><text y="7">→</text></g>
<g id="k17-11" class="b" transform="translate(604 894)"><ellipse rx="17.5" ry="21.5"/><text y="7">→</text></g>
<g id="k17-12" class="b" transform="translate(656 894)"><ellipse rx="17.5" ry="21.5"/><text y="7">→</text></g>
<g id="k17-13" class="b" transform="translate(708 894)"><ellipse rx="17.5" ry="21.5"/><text y="7">→</text></g>
<g id="k17-14" class="b" transform="translate(760 894)"><ellipse rx="17.5" ry="21.5"/><text y="7">→</text></g>
<g id="k18-1" class="b" transform="translate(84 946)"><ellipse rx="17.5" ry="21.5"/><text y="7">←</text></g>
<g id="k18-2" class="b" transform="translate(136 946)"><ellipse rx="17.5" ry="21.5"/><text y="7">←</text></g>
<g id="k18-3" class="b" transform="translate(188 946)"><ellipse rx="17.5" ry="21.5"/><text y="7">←</text></g>
<g id="k18-4" class="b" transform="translate(240 946)"><ellipse rx="17.5" ry="21.5"/><text y="7">←</text></g>
<g id="k18-5" class="b" transform="translate(292 946)"><ellipse rx="17.5" ry="21.5"/><text y="7">←</text></g>
<g id="k18-6" class="g" transform="translate(344 946)"><ellipse rx="17.5" ry="21.5"/><text y="7">←</text></g>
<g id="k18-7" class="g" transform="translate(396 946)"><ellipse rx="17.5" ry="21.5"/><text y="7">←</text></g>
<g id="k18-8" class="g" transform="translate(448 946)"><ellipse rx="17.5" ry="21.5"/><text y="7">←</text></g>
<g id="k18-9" class="g" transform="translate(500 946)"><ellipse rx="17.5" ry="21.5"/><text y="7">←</text></g>
<g id="k18-10" class="b" transform="translate(552 946)"><ellipse rx="17.5" ry="21.5"/><text y="7">←</text></g>
<g id="k18-11" class="b" transform="translate(604 946)"><ellipse rx="17.5" ry="21.5"/><text y="7">←</text></g>
<g id="k18-12" class="b" transform="translate(656 946)"><ellipse rx="17.5" ry="21.5"/><text y="7">←</text></g>
<g id="k18-13" class="b" transform="translate(708 946)"><ellipse rx="17.5" ry="21.5"/><text y="7">←</text></g>
<g id="k18-14" class="b" transform="translate(760 946)"><ellipse rx="17.5" ry="21.5"/><text y="7">←</text></g>
<g id="k19-1" class="b" transform="translate(84 998)"><ellipse rx="17.5" ry="21.5"/><text y="7">→</text></g>
<g id="k19-2" class="b" transform="translate(136 998)"><ellipse rx="17.5" ry="21.5"/><text y="7">→</text></g>
<g id="k19-3" class="b" transform="translate(188 998)"><ellipse rx="17.5" ry="21.5"/><text y="7">→</text></g>
<g id="k19-4" class="b" transform="translate(240 998)"><ellipse rx="17.5" ry="21.5"/><text y="7">→</text></g>
<g id="k19-5" class="b" transform="translate(292 998)"><ellipse rx="17.5" ry="21.5"/><text y="7">→</text></g>
<g id="k19-6" class="g" transform="translate(344 998)"><ellipse rx="17.5" ry="21.5"/><text y="7">→</text></g>
<g id="k19-7" class="g" transform="translate(396 998)"><ellipse rx="17.5" ry="21.5"/><text y="7">→</text></g>
<g id="k19-8" class="g" transform="translate(448 998)"><ellipse rx="17.5" ry="21.5"/><text y="7">→</text></g>
<g id="k19-9" class="g" transform="translate(500 998)"><ellipse rx="17.5" ry="21.5"/><text y="7">→</text></g>
<g id="k19-10" class="b" transform="translate(552 998)"><ellipse rx="17.5" ry="21.5"/><text y="7">→</text></g>
<g id="k19-11" class="b" transform="translate(604 998)"><ellipse rx="17.5" ry="21.5"/><text y="7">→</text></g>
<g id="k19-12" class="b" transform="translate(656 998)"><ellipse rx="17.5" ry="21.5"/><text y="7">→</text></g>
<g id="k19-13" class="b" transform="translate(708 998)"><ellipse rx="17.5" ry="21.5"/><text y="7">→</text></g>
<g id="k19-14" class="b" transform="translate(760 998)"><ellipse rx="17.5" ry="21.5"/><text y="7">→</text></g>
<g id="k20-1" class="b" transform="translate(84 1050)"><ellipse rx="17.5" ry="21.5"/><text y="7">←</text></g>
<g id="k20-2" class="b" transform="translate(136 1050)"><ellipse rx="17.5" ry="21.5"/><text y="7">←</text></g>
<g id="k20-3" class="b" transform="translate(188 1050)"><ellipse rx="17.5" ry="21.5"/><text y="7">←</text></g>
<g id="k20-4" class="b" transform="translate(240 1050)"><ellipse rx="17.5" ry="21.5"/><text y="7">←</text></g>
<g id="k20-5" class="b" transform="translate(292 1050)"><ellipse rx="17.5" ry="21.5"/><text y="7">←</text></g>
<g id="k20-6" class="g" transform="translate(344 1050)"><ellipse rx="17.5" ry="21.5"/><text y="7">←</text></g>
<g id="k20-7" class="g" transform="translate(396 1050)"><ellipse rx="17.5" ry="21.5"/><text y="7">←</text></g>
<g id="k20-8" class="g" transform="translate(448 1050)"><ellipse rx="17.5" ry="21.5"/><text y="7">←</text></g>
<g id="k20-9" class="g" transform="translate(500 1050)"><ellipse rx="17.5" ry="21.5"/><text y="7">←</text></g>
<g id="k20-10" class="b" transform="translate(552 1050)"><ellipse rx="17.5" ry="21.5"/><text y="7">←</text></g>
<g id="k20-11" class="b" transform="translate(604 1050)"><ellipse rx="17.5" ry="21.5"/><text y="7">←</text></g>
<g id="k20-12" class="b" transform="translate(656 1050)"><ellipse rx="17.5" ry="21.5"/><text y="7">←</text></g>
<g id="k20-13" class="b" transform="translate(708 1050)"><ellipse rx="17.5" ry="21.5"/><text y="7">←</text></g>
<g id="k20-14" class="b" transform="translate(760 1050)"><ellipse rx="17.5" ry="21.5"/><text y="7">←</text></g>
<g id="k21-1" class="b" transform="translate(84 1102)"><ellipse rx="17.5" ry="21.5"/><text y="7">→</text></g>
<g id="k21-2" class="b" transform="translate(136 1102)"><ellipse rx="17.5" ry="21.5"/><text y="7">→</text></g>
<g id="k21-3" class="b" transform="translate(188 1102)"><ellipse rx="17.5" ry="21.5"/><text y="7">→</text></g>
<g id="k21-4" class="b" transform="translate(240 1102)"><ellipse rx="17.5" ry="21.5"/><text y="7">→</text></g>
<g id="k21-5" class="b" transform="translate(292 1102)"><ellipse rx="17.5" ry="21.5"/><text y="7">→</text></g>
<g id="k21-6" class="g" transform="translate(344 1102)"><ellipse rx="17.5" ry="21.5"/><text y="7">→</text></g>
<g id="k21-7" class="g" transform="translate(396 1102)"><ellipse rx="17.5" ry="21.5"/><text y="7">→</text></g>
<g id="k21-8" class="g" transform="translate(448 1102)"><ellipse rx="17.5" ry="21.5"/><text y="7">→</text></g>
<g id="k21-9" class="p" transform="translate(500 1102)"><ellipse rx="17.5" ry="21.5"/><text y="7">→</text></g>
<g id="k21-10" class="b" transform="translate(552 1102)"><ellipse rx="17.5" ry="21.5"/><text y="7">→</text></g>
<g id="k21-11" class="b" transform="translate(604 1102)"><ellipse rx="17.5" ry="21.5"/><text y="7">→</text></g>
<g id="k21-12" class="b" transform="translate(656 1102)"><ellipse rx="17.5" ry="21.5"/><text y="7">→</text></g>
<g id="k21-13" class="b" transform="translate(708 1102)"><ellipse rx="17.5" ry="21.5"/><text y="7">→</text></g>
<g id="k21-14" class="b" transform="translate(760 1102)"><ellipse rx="17.5" ry="21.5"/><text y="7">→</text></g>
<g id="k22-1" class="b" transform="translate(84 1154)"><ellipse rx="17.5" ry="21.5"/><text y="7">←</text></g>
<g id="k22-2" class="b" transform="translate(136 1154)"><ellipse rx="17.5" ry="21.5"/><text y="7">←</text></g>
<g id="k22-3" class="b" transform="translate(188 1154)"><ellipse rx="17.5" ry="21.5"/><text y="7">←</text></g>
<g id="k22-4" class="b" transform="translate(240 1154)"><ellipse rx="17.5" ry="21.5"/><text y="7">←</text></g>
<g id="k22-5" class="b" transform="translate(292 1154)"><ellipse rx="17.5" ry="21.5"/><text y="7">←</text></g>
<g id="k22-6" class="g" transform="translate(344 1154)"><ellipse rx="17.5" ry="21.5"/><text y="7">←</text></g>
<g id="k22-7" class="g" transform="translate(396 1154)"><ellipse rx="17.5" ry="21.5"/><text y="7">←</text></g>
<g id="k22-8" class="g" transform="translate(448 1154)"><ellipse rx="17.5" ry="21.5"/><text y="7">←</text></g>
<g id="k22-9" class="g" transform="translate(500 1154)"><ellipse rx="17.5" ry="21.5"/><text y="7">←</text></g>
<g id="k22-10" class="b" transform="translate(552 1154)"><ellipse rx="17.5" ry="21.5"/><text y="7">←</text></g>
<g id="k22-11" class="b" transform="translate(604 1154)"><ellipse rx="17.5" ry="21.5"/><text y="7">←</text></g>
<g id="k22-12" class="b" transform="translate(656 1154)"><ellipse rx="17.5" ry="21.5"/><text y="7">←</text></g>
<g id="k22-13" class="b" transform="translate(708 1154)"><ellipse rx="17.5" ry="21.5"/><text y="7">←</text></g>
<g id="k22-14" class="b" transform="translate(760 1154)"><ellipse rx="17.5" ry="21.5"/><text y="7">←</text></g>
<g id="k23-1" class="b" transform="translate(84 1206)"><ellipse rx="17.5" ry="21.5"/><text y="7">→</text></g>
<g id="k23-2" class="b" transform="translate(136 1206)"><ellipse rx="17.5" ry="21.5"/><text y="7">→</text></g>
<g id="k23-3" class="b" transform="translate(188 1206)"><ellipse rx="17.5" ry="21.5"/><text y="7">→</text></g>
<g id="k23-4" class="b" transform="translate(240 1206)"><ellipse rx="17.5" ry="21.5"/><text y="7">→</text></g>
<g id="k23-5" class="b" transform="translate(292 1206)"><ellipse rx="17.5" ry="21.5"/><text y="7">→</text></g>
<g id="k23-6" class="b" transform="translate(344 1206)"><ellipse rx="17.5" ry="21.5"/><text y="7">→</text></g>
<g id="k23-7" class="b" transform="translate(396 1206)"><ellipse rx="17.5" ry="21.5"/><text y="7">→</text></g>
<g id="k23-8" class="b" transform="translate(448 1206)"><ellipse rx="17.5" ry="21.5"/><text y="7">→</text></g>
<g id="k23-9" class="b" transform="translate(500 1206)"><ellipse rx="17.5" ry="21.5"/><text y="7">→</text></g>
<g id="k23-10" class="b" transform="translate(552 1206)"><ellipse rx="17.5" ry="21.5"/><text y="7">→</text></g>
<g id="k23-11" class="b" transform="translate(604 1206)"><ellipse rx="17.5" ry="21.5"/><text y="7">→</text></g>
<g id="k23-12" class="b" transform="translate(656 1206)"><ellipse rx="17.5" ry="21.5"/><text y="7">→</text></g>
<g id="k23-13" class="b" transform="translate(708 1206)"><ellipse rx="17.5" ry="21.5"/><text y="7">→</text></g>
<g id="k23-14" class="b" transform="translate(760 1206)"><ellipse rx="17.5" ry="21.5"/><text y="7">→</text></g>
</g>
<text class="wm" x="422" y="665">BRACELETBOOK.COM</text>
</svg>
